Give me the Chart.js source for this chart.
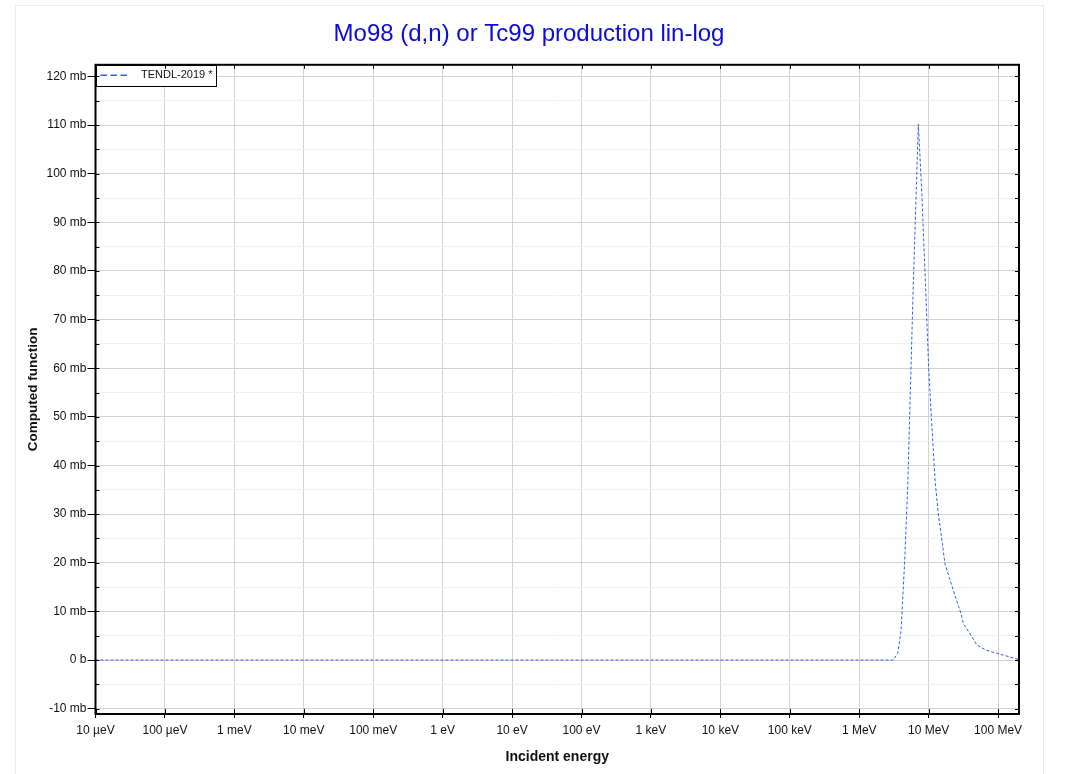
<!DOCTYPE html>
<html>
<head>
<meta charset="utf-8">
<title>Mo98 (d,n) or Tc99 production lin-log</title>
<script src="https://cdn.jsdelivr.net/npm/chart.js@4.4.1/dist/chart.umd.min.js"></script>
<style>
    html, body { margin: 0; padding: 0; background: #fff; overflow: hidden; }
    #frame { position: absolute; left: 15px; top: 5px; width: 1027px; height: 800px; border: 1px solid #ebebeb; }
    #reportChart { position: absolute; left: 0; top: 0; }
</style>
</head>
<body>
<div id="frame"></div>
<canvas id="reportChart" width="1067" height="774"></canvas>
<script>
// incident energy, eV
var energies = [1e-5, 3.1e6, 3.6e6, 4.0e6, 4.5e6, 5.0e6, 6.0e6, 7.1e6, 8.0e6, 9.0e6,
    10e6, 11e6, 12.4e6, 13.8e6, 15e6, 17.2e6, 20e6, 22.7e6, 26e6, 29.3e6,
    31.6e6, 35e6, 41.8e6, 49.3e6, 60e6, 68.7e6, 80e6, 95.5e6, 120e6, 150e6, 200e6];
// cross section, mb
var tendl2019 = [0, 0, 1.5, 6, 20, 36, 77, 110.2, 95.5, 77.2,
    60, 49.3, 36.7, 30, 26.2, 19.7, 16.8, 14.3, 11.7, 9.5,
    7.5, 6.5, 4.8, 3.1, 2.4, 2.0, 1.7, 1.4, 1.0, 0.6, 0.1];

var xTickValues = [1e-5, 1e-4, 1e-3, 1e-2, 1e-1, 1, 10, 100, 1e3, 1e4, 1e5, 1e6, 1e7, 1e8];
var xTickLabels = ['10 µeV', '100 µeV', '1 meV', '10 meV', '100 meV', '1 eV', '10 eV',
    '100 eV', '1 keV', '10 keV', '100 keV', '1 MeV', '10 MeV', '100 MeV'];
var yTickValues = [-10, -5, 0, 5, 10, 15, 20, 25, 30, 35, 40, 45, 50, 55, 60,
    65, 70, 75, 80, 85, 90, 95, 100, 105, 110, 115, 120];

var labelFont = "'Liberation Sans', Arial, Helvetica, sans-serif";
var tickFont = { family: labelFont, size: 12 };
var legendFontSize = 11;
var legendLineWidth = 35;

function isMajorY(v) {
    return v % 10 === 0;
}

// рамка, внутренние засечки и легенда внутри области графика
var frameTicks = {
    id: 'frameTicks',
    afterLayout: function (chart) {
        var lg = chart.legend;
        var a = chart.chartArea;
        if (!lg) return;
        var w = lg.width, h = lg.height;
        lg.left = a.left;
        lg.top = a.top;
        lg.right = a.left + w;
        lg.bottom = a.top + h;
        lg.adjustHitBoxes();
    },
    afterDraw: function (chart) {
        var ctx = chart.ctx;
        var a = chart.chartArea;
        var xs = chart.scales.x;
        var ys = chart.scales.y;
        ctx.save();

        // legend box
        var lg = chart.legend;
        if (lg) {
            ctx.font = legendFontSize + 'px ' + labelFont;
            var tw = ctx.measureText(chart.data.datasets[0].label).width;
            var lw = Math.round(5 + legendLineWidth + legendFontSize / 2 + tw + 3);
            var lh = Math.round(5 + legendFontSize + 5);
            var bx = Math.round(a.left), by = Math.round(a.top);
            ctx.fillStyle = '#fff';
            ctx.fillRect(bx, by, lw, lh);
            ctx.strokeStyle = '#000';
            ctx.lineWidth = 1;
            ctx.strokeRect(bx + 0.5, by + 0.5, lw, lh);
            lg.draw();
        }

        ctx.strokeStyle = '#000';
        ctx.lineWidth = 1;
        ctx.beginPath();
        xs.ticks.forEach(function (t) {
            var px = Math.round(xs.getPixelForValue(t.value)) + 0.5;
            ctx.moveTo(px, a.bottom);
            ctx.lineTo(px, a.bottom - 5);
            ctx.moveTo(px, a.top);
            ctx.lineTo(px, a.top + 4);
        });
        ys.ticks.forEach(function (t) {
            if (t.value % 5 !== 0) return;
            var py = Math.round(ys.getPixelForValue(t.value)) + 0.5;
            ctx.moveTo(a.left, py);
            ctx.lineTo(a.left + 4, py);
            ctx.moveTo(a.right, py);
            ctx.lineTo(a.right - 4, py);
        });
        ctx.stroke();

        ctx.lineWidth = 2;
        ctx.strokeRect(a.left, a.top, a.right - a.left, a.bottom - a.top);
        ctx.restore();
    }
};

var points = [];
for (var i = 0; i < energies.length; i++) {
    points.push({ x: energies[i], y: tendl2019[i] });
}

var ctx = document.getElementById('reportChart').getContext('2d');
var myChart = new Chart(ctx, {
    type: 'line',
    data: {
        datasets: [{
            label: 'TENDL-2019 *',
            data: points,
            xAxisID: 'x',
            yAxisID: 'y',
            borderColor: 'rgb(50, 95, 230)',
            backgroundColor: 'rgb(50, 95, 230)',
            borderWidth: 1,
            borderDash: [3, 2],
            pointRadius: 0,
            tension: 0,
            fill: false
        }]
    },
    options: {
        responsive: false,
        animation: false,
        layout: { padding: { left: 15, right: 24, top: 0, bottom: 0 } },
        plugins: {
            title: {
                display: true,
                text: 'Mo98 (d,n) or Tc99 production lin-log',
                color: '#0a0adc',
                font: { family: labelFont, size: 24, weight: 'normal' },
                padding: { top: 20, bottom: 16 }
            },
            legend: {
                position: 'chartArea',
                align: 'start',
                labels: {
                    color: '#111',
                    font: { family: labelFont, size: legendFontSize },
                    padding: 5,
                    usePointStyle: true,
                    pointStyle: 'line',
                    pointStyleWidth: legendLineWidth,
                    generateLabels: function (chart) {
                        var items = Chart.defaults.plugins.legend.labels.generateLabels(chart);
                        items.forEach(function (it) {
                            it.lineDash = [6.5, 3.5, 6.5, 3.5, 6.5, 20];
                            it.lineWidth = 1.5;
                            it.pointStyle = 'line';
                        });
                        return items;
                    }
                }
            },
            tooltip: { enabled: false }
        },
        scales: {
            x: {
                type: 'logarithmic',
                position: 'bottom',
                min: 1e-5,
                max: 2e8,
                afterBuildTicks: function (scale) {
                    scale.ticks = xTickValues.map(function (v) { return { value: v }; });
                },
                afterFit: function (scale) {
                    scale.height = 60;
                },
                ticks: {
                    autoSkip: false,
                    maxRotation: 0,
                    color: '#111',
                    font: tickFont,
                    padding: 5,
                    callback: function (value, index) {
                        return xTickLabels[index];
                    }
                },
                grid: {
                    color: '#d2d2d2',
                    lineWidth: 1,
                    drawTicks: true,
                    tickLength: 4,
                    tickColor: '#000'
                },
                border: { display: false },
                title: {
                    display: true,
                    text: 'Incident energy',
                    color: '#111',
                    font: { family: labelFont, size: 14, weight: 'bold' },
                    padding: { top: 4, bottom: 8 }
                }
            },
            y: {
                type: 'linear',
                position: 'left',
                min: -11.1,
                max: 122.4,
                afterBuildTicks: function (scale) {
                    scale.ticks = yTickValues.map(function (v) { return { value: v }; });
                },
                afterFit: function (scale) {
                    scale.width = 80.5;
                },
                ticks: {
                    color: '#111',
                    font: tickFont,
                    padding: 1,
                    callback: function (value) {
                        if (!isMajorY(value)) return '';
                        return value === 0 ? '0 b' : value + ' mb';
                    }
                },
                grid: {
                    color: function (c) {
                        if (!c.tick) return 'transparent';
                        return isMajorY(c.tick.value) ? '#d2d2d2' : '#f1f1f1';
                    },
                    lineWidth: 1,
                    drawTicks: true,
                    tickLength: 8,
                    tickColor: function (c) {
                        if (!c.tick) return 'transparent';
                        return isMajorY(c.tick.value) ? '#000' : 'transparent';
                    }
                },
                border: { display: false },
                title: {
                    display: true,
                    text: 'Computed function',
                    color: '#111',
                    font: { family: labelFont, size: 13.5, weight: 'bold' },
                    padding: { top: 10, bottom: 0 }
                }
            },
            // пустая правая ось, только чтобы отодвинуть правый край области
            y2: {
                type: 'linear',
                position: 'right',
                min: -11.1,
                max: 122.4,
                afterFit: function (scale) {
                    scale.width = 24;
                },
                ticks: { display: false },
                grid: { drawOnChartArea: false, drawTicks: false },
                border: { display: false }
            }
        }
    },
    plugins: [frameTicks]
});
</script>
</body>
</html>
